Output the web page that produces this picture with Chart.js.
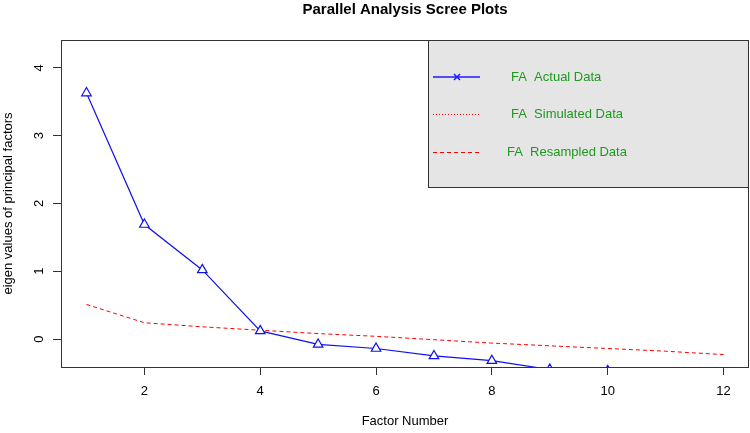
<!DOCTYPE html>
<html>
<head>
<meta charset="utf-8">
<script src="https://cdn.jsdelivr.net/npm/chart.js@4"></script>
<style>
  html, body { margin: 0; padding: 0; background: white; }
  #wrap { width: 750px; height: 433px; }
</style>
</head>
<body>
<div id="wrap"><canvas id="myChart" width="750" height="433"></canvas></div>
<script>
// factores y valores
const factores = [1, 2, 3, 4, 5, 6, 7, 8, 9, 10, 11, 12];
const datosReales = [3.63, 1.69, 1.02, 0.12, -0.08, -0.14, -0.25, -0.32, -0.45, -0.47, -0.6, -0.7];
const datosRemuestreo = [0.51, 0.24, 0.18, 0.13, 0.08, 0.04, -0.01, -0.06, -0.10, -0.14, -0.18, -0.23];
const datosSimulados = [];
const ticksX = [2, 4, 6, 8, 10, 12];
const ticksY = [0, 1, 2, 3, 4];

const fuente = "'Liberation Sans', Arial, Helvetica, sans-serif";

// convierte a puntos {x, y}
function puntos(valores) {
    return valores.map((v, i) => ({ x: factores[i], y: v }));
}

// dibuja caja, titulos, etiquetas de los ejes y leyenda
const extras = {
    id: "extras",
    afterDraw(chart) {
        const ctx = chart.ctx;
        const a = chart.chartArea;
        const xScale = chart.scales.x;
        const yScale = chart.scales.y;
        ctx.save();

        // leyenda gris
        const lx = 428, ly = a.top, lw = a.right - 428, lh = 188 - a.top;
        ctx.fillStyle = "#e5e5e5";
        ctx.fillRect(lx, ly, lw, lh);
        ctx.strokeStyle = "#333";
        ctx.lineWidth = 1;
        ctx.strokeRect(lx + 0.5, ly + 0.5, lw - 1, lh - 1);

        // muestras de lineas
        ctx.lineWidth = 1.5;
        ctx.strokeStyle = "#1a1aff";
        ctx.setLineDash([]);
        ctx.beginPath(); ctx.moveTo(433, 77); ctx.lineTo(480, 77); ctx.stroke();
        ctx.beginPath();
        ctx.moveTo(454, 74); ctx.lineTo(460, 80);
        ctx.moveTo(460, 74); ctx.lineTo(454, 80);
        ctx.stroke();
        ctx.lineWidth = 1;
        ctx.strokeStyle = "red";
        ctx.setLineDash([1, 2]);
        ctx.beginPath(); ctx.moveTo(433, 114.5); ctx.lineTo(480, 114.5); ctx.stroke();
        ctx.setLineDash([4, 3]);
        ctx.beginPath(); ctx.moveTo(433, 152.5); ctx.lineTo(480, 152.5); ctx.stroke();
        ctx.setLineDash([]);

        ctx.fillStyle = "#1e9a1e";
        ctx.font = "13px " + fuente;
        ctx.textAlign = "left";
        ctx.textBaseline = "middle";
        ctx.fillText("FA  Actual Data", 511, 77);
        ctx.fillText("FA  Simulated Data", 511, 114);
        ctx.fillText("FA  Resampled Data", 507, 152);

        // caja del grafico
        ctx.strokeStyle = "#333";
        ctx.lineWidth = 1;
        ctx.strokeRect(a.left + 0.5, a.top + 0.5, a.right - a.left - 1, a.bottom - a.top);

        // etiquetas del eje x
        ctx.fillStyle = "#000";
        ctx.font = "13px " + fuente;
        ctx.textAlign = "center";
        ctx.textBaseline = "middle";
        for (const t of ticksX) {
            ctx.fillText(String(t), xScale.getPixelForValue(t), 391);
        }

        // etiquetas del eje y giradas
        for (const t of ticksY) {
            const py = yScale.getPixelForValue(t);
            ctx.save();
            ctx.translate(39, py);
            ctx.rotate(-Math.PI / 2);
            ctx.fillText(String(t), 0, 0);
            ctx.restore();
        }

        // titulo del eje y
        ctx.save();
        ctx.translate(8, (a.top + a.bottom) / 2);
        ctx.rotate(-Math.PI / 2);
        ctx.fillText("eigen values of principal factors", 0, 0);
        ctx.restore();

        // titulo del eje x
        ctx.fillText("Factor Number", (a.left + a.right) / 2, 421);

        // titulo principal
        ctx.font = "bold 15px " + fuente;
        ctx.fillText("Parallel Analysis Scree Plots", (a.left + a.right) / 2, 10);

        ctx.restore();
    }
};

const config = {
    type: "line",
    data: {
        datasets: [
            {
                label: "FA  Actual Data",
                data: puntos(datosReales),
                borderColor: "#1010ee",
                borderWidth: 1.2,
                pointStyle: "triangle",
                pointRadius: 5.5,
                pointBorderColor: "#1010ee",
                pointBackgroundColor: "white",
                pointBorderWidth: 1.2,
                clip: 0,
                order: 1
            },
            {
                label: "FA  Simulated Data",
                data: datosSimulados,
                borderColor: "red",
                borderWidth: 1,
                borderDash: [1, 2],
                pointRadius: 0,
                clip: 0
            },
            {
                label: "FA  Resampled Data",
                data: puntos(datosRemuestreo),
                borderColor: "red",
                borderWidth: 1,
                borderDash: [4, 3],
                pointRadius: 0,
                clip: 0,
                order: 2
            }
        ]
    },
    options: {
        responsive: false,
        animation: false,
        layout: { autoPadding: false, padding: { top: 40, right: 1, left: 0, bottom: 0 } },
        plugins: {
            legend: { display: false },
            title: { display: false },
            tooltip: { enabled: false }
        },
        scales: {
            x: {
                type: "linear",
                min: 0.56,
                max: 12.44,
                afterBuildTicks: (s) => { s.ticks = ticksX.map(v => ({ value: v })); },
                afterFit: (s) => { s.height = 66; },
                grid: { drawOnChartArea: false, tickLength: 8, color: "#333", tickWidth: 1 },
                border: { display: false },
                ticks: { display: false }
            },
            y: {
                type: "linear",
                min: -0.413,
                max: 4.413,
                afterBuildTicks: (s) => { s.ticks = ticksY.map(v => ({ value: v })); },
                afterFit: (s) => { s.width = 61; },
                grid: { drawOnChartArea: false, tickLength: 8, color: "#333", tickWidth: 1 },
                border: { display: false },
                ticks: { display: false }
            }
        }
    },
    plugins: [extras]
};

const chart = new Chart(document.getElementById("myChart"), config);
</script>
</body>
</html>
